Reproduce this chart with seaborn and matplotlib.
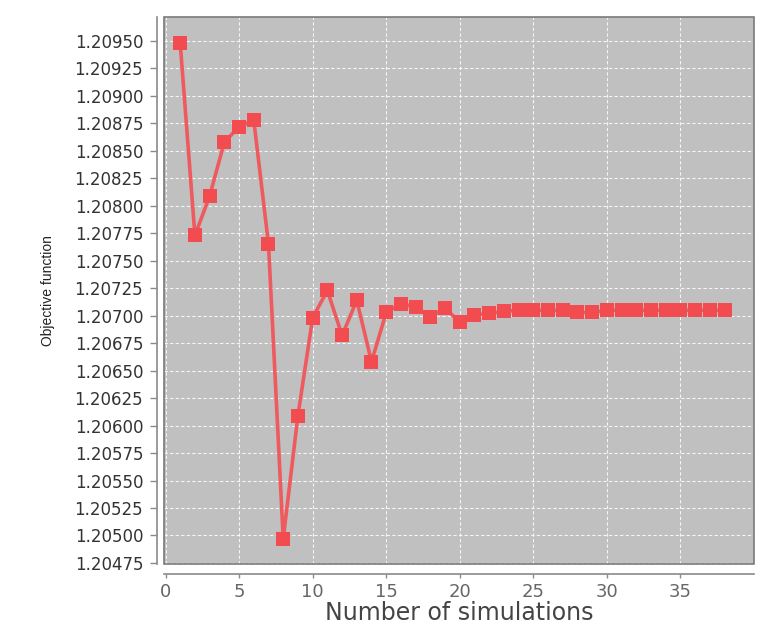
import numpy as np
import pandas as pd
import matplotlib
matplotlib.use("Agg")
import matplotlib.pyplot as plt
from matplotlib import font_manager
import seaborn as sns

# Objective function value per simulation
simulations = list(range(1, 39))
objective = [
    1.20948, 1.20773, 1.20809, 1.20858, 1.20872, 1.20878, 1.20765, 1.20497,
    1.20609, 1.20698, 1.20723, 1.20682, 1.20714, 1.20658, 1.20703, 1.20711,
    1.20708, 1.20699, 1.20707, 1.20694, 1.20701, 1.20702, 1.20704, 1.20705,
    1.20705, 1.20705, 1.20705, 1.20703, 1.20703, 1.20705, 1.20705, 1.20705,
    1.20705, 1.20705, 1.20705, 1.20705, 1.20705, 1.20705,
]
y_ticks = [1.20475 + 0.00025 * i for i in range(20)]
x_ticks = [0, 5, 10, 15, 20, 25, 30, 35]

df = pd.DataFrame({"sim": simulations, "obj": objective})

sns.set_theme(style="white")
plt.rcParams['font.family'] = ['DejaVu Sans']

# narrow font for the y label if there is one
names = {f.name for f in font_manager.fontManager.ttflist}
if 'Liberation Sans Narrow' in names:
    ylab_font, ylab_size = 'Liberation Sans Narrow', 11.5
else:
    ylab_font, ylab_size = 'Liberation Sans', 10

fig = plt.figure(figsize=(7.58, 6.26), dpi=100)
ax = fig.add_axes([0.2164, 0.0990, 0.7784, 0.8738])
ax.set_facecolor('#c0c0c0')

# Plot data
sns.lineplot(data=df, x="sim", y="obj", ax=ax, color='#ee5a5e', linewidth=2.6,
             marker='s', markersize=10, markeredgewidth=0, markerfacecolor='#f24b50',
             zorder=3)

# Grid
ax.grid(True, which='major', color='white', linestyle=(0, (3, 2)), linewidth=0.8, alpha=0.85, zorder=1)
ax.set_axisbelow(True)

# Axis limits and ticks
ax.set_xlim(-0.1, 40.0)
ax.set_ylim(1.20474, 1.209718)
ax.set_xticks(x_ticks)
ax.set_yticks(y_ticks)
ax.yaxis.set_major_formatter(lambda s, i: f'{s:.5f}')

# Offset spines like the original chart
for side in ['top', 'right']:
    ax.spines[side].set_visible(False)
ax.spines['left'].set_position(('outward', 5))
ax.spines['bottom'].set_position(('outward', 7))
for side in ['left', 'bottom']:
    ax.spines[side].set_color('#8a8a8a')
    ax.spines[side].set_linewidth(1.2)

# Plot outline
ax.add_patch(plt.Rectangle((0, 0), 1, 1, transform=ax.transAxes, fill=False,
                           edgecolor='#7a7a7a', linewidth=1.2, zorder=4, clip_on=False))

ax.tick_params(axis='y', length=5, width=1, color='#8a8a8a', labelsize=12,
               labelcolor='#333333', pad=5, left=True)
ax.tick_params(axis='x', length=3, width=1, color='#8a8a8a', labelsize=13,
               labelcolor='#666666', pad=4, bottom=True)

ax.set_xlabel('Number of simulations', fontsize=17, color='#444444', labelpad=0)
ax.set_ylabel('Objective function', fontsize=ylab_size, family=ylab_font,
              color='#222222', labelpad=14)

fig.savefig('out.png', dpi=100, facecolor='white')
